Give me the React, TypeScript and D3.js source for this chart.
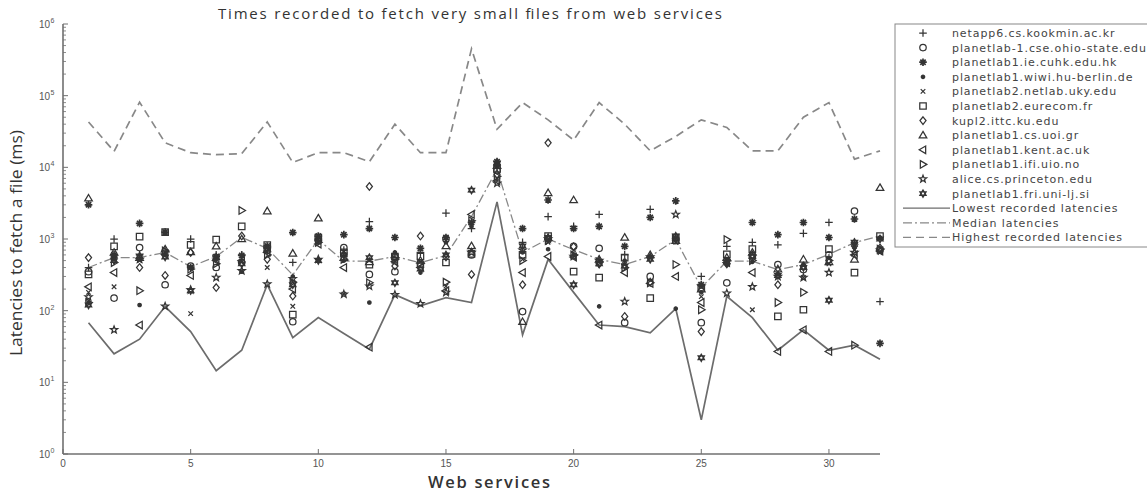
import React from "react";
import * as d3 from "d3";

// web service index on the x axis
const services = [1, 2, 3, 4, 5, 6, 7, 8, 9, 10, 11, 12, 13, 14, 15, 16, 17, 18, 19, 20, 21, 22, 23, 24, 25, 26, 27, 28, 29, 30, 31, 32];

const hosts = [
  "netapp6.cs.kookmin.ac.kr",
  "planetlab-1.cse.ohio-state.edu",
  "planetlab1.ie.cuhk.edu.hk",
  "planetlab1.wiwi.hu-berlin.de",
  "planetlab2.netlab.uky.edu",
  "planetlab2.eurecom.fr",
  "kupl2.ittc.ku.edu",
  "planetlab1.cs.uoi.gr",
  "planetlab1.kent.ac.uk",
  "planetlab1.ifi.uio.no",
  "alice.cs.princeton.edu",
  "planetlab1.fri.uni-lj.si",
];
const markerKinds = ["plus", "circle", "asterisk", "point", "x", "square", "diamond", "up", "left", "right", "pentagram", "hexagram"];

// latencies (ms) per host
const netapp6 = [400, 1000, 600, 700, 1000, 600, 600, 750, 470, 1000, 700, 1750, 600, 650, 2300, 1400, 11000, 900, 2050, 1500, 2200, 600, 2600, 1000, 300, 790, 900, 830, 1200, 1700, 900, 134];
const ohio = [350, 150, 760, 230, 420, 400, 470, 700, 70, 950, 760, 320, 350, 440, 1000, 600, 9000, 97, 1000, 790, 740, 68, 300, 950, 68, 245, 560, 440, 375, 600, 2450, 700];
const cuhk = [3000, 600, 1650, 1250, 400, 570, 590, 800, 1230, 1100, 1150, 1400, 1050, 740, 1050, 1700, 12000, 1400, 3500, 1400, 1500, 790, 2000, 3400, 230, 500, 1700, 1150, 1700, 1050, 1900, 35];
const wiwi = [130, 520, 120, 600, 400, 550, 350, 780, 300, 520, 500, 130, 650, 340, 900, 1500, 10000, 650, 720, 600, 115, 500, 570, 107, 180, 440, 480, 320, 440, 550, 800, 1050];
const uky = [180, 215, 500, 650, 91, 520, 480, 400, 115, 900, 170, 500, 500, 480, 220, 700, 7000, 520, 900, 700, 490, 440, 550, 900, 157, 520, 103, 350, 290, 450, 700, 650];
const eurecom = [320, 790, 1080, 1250, 830, 980, 1500, 820, 88, 1050, 650, 440, 570, 570, 470, 620, 9500, 600, 1100, 350, 290, 550, 150, 1050, 210, 610, 720, 83, 103, 720, 340, 1100];
const kupl2 = [550, 560, 400, 310, 650, 210, 1100, 520, 160, 950, 610, 5400, 420, 1100, 560, 320, 8000, 230, 22000, 780, 450, 83, 250, 1000, 51, 450, 600, 230, 420, 500, 800, 750];
const uoi = [3700, 650, 550, 720, 660, 790, 1000, 2450, 630, 1950, 550, 480, 600, 500, 800, 800, 10500, 70, 4400, 3500, 520, 1050, 600, 950, 200, 550, 650, 380, 520, 480, 520, 5200];
const kent = [215, 340, 63, 610, 310, 500, 500, 650, 200, 850, 400, 31, 480, 400, 190, 2200, 6500, 340, 570, 560, 63, 340, 240, 300, 130, 470, 340, 27, 54, 27, 600, 680];
const uio = [130, 470, 190, 680, 380, 450, 2500, 600, 250, 900, 520, 245, 520, 460, 250, 1800, 7500, 500, 950, 600, 480, 400, 245, 440, 103, 980, 500, 130, 180, 500, 33, 720];
const alice = [155, 54, 520, 115, 195, 290, 360, 235, 280, 520, 170, 220, 167, 125, 180, 650, 6000, 700, 1000, 570, 500, 134, 560, 2200, 220, 175, 215, 300, 290, 340, 650, 700];
const fri = [120, 500, 580, 560, 190, 550, 450, 720, 230, 500, 600, 550, 245, 380, 600, 4800, 11500, 800, 1050, 230, 450, 420, 520, 1100, 22, 480, 570, 310, 400, 140, 900, 1000];

const lowest = [68, 25, 40, 114, 51, 14.5, 28, 230, 42, 80, 48, 29, 167, 117, 152, 130, 3300, 46, 520, 180, 63, 60, 49, 107, 3, 158, 80, 28, 54, 28, 33, 21];
const median = [400, 550, 550, 650, 410, 570, 1050, 740, 315, 980, 490, 490, 570, 465, 590, 2060, 9400, 650, 1000, 710, 520, 440, 570, 980, 210, 490, 490, 375, 440, 610, 890, 1100];
const highest = [43000, 16700, 81000, 22000, 16000, 15000, 15500, 43000, 11700, 16000, 16000, 12000, 40000, 16000, 16000, 450000, 34000, 80000, 46000, 24000, 80000, 40000, 17000, 27000, 46000, 36000, 17000, 17000, 50000, 80000, 13000, 17000];

const hostSeries = [netapp6, ohio, cuhk, wiwi, uky, eurecom, kupl2, uoi, kent, uio, alice, fri];
const lineNames = ["Lowest recorded latencies", "Median latencies", "Highest recorded latencies"];
const lineSeries = [lowest, median, highest];
const lineDash = ["", "9,3,2,3", "8,5"];

const xTicks = [0, 5, 10, 15, 20, 25, 30];
const yExps = [0, 1, 2, 3, 4, 5, 6];

const W = 1147;
const H = 492;
const left = 63;
const right = 880;
const top = 24;
const bottom = 454;

const ink = "#343434";
const axisCol = "#707070";

function markerPath(kind: string, r: number): string {
  const p = d3.path();
  if (kind === "plus") {
    p.moveTo(-r, 0); p.lineTo(r, 0); p.moveTo(0, -r); p.lineTo(0, r);
  } else if (kind === "asterisk") {
    p.moveTo(-r, 0); p.lineTo(r, 0); p.moveTo(0, -r); p.lineTo(0, r);
    const k = r * 0.7;
    p.moveTo(-k, -k); p.lineTo(k, k); p.moveTo(-k, k); p.lineTo(k, -k);
  } else if (kind === "x") {
    const k = r * 0.6;
    p.moveTo(-k, -k); p.lineTo(k, k); p.moveTo(-k, k); p.lineTo(k, -k);
  } else if (kind === "square") {
    const k = r * 0.85;
    p.rect(-k, -k, 2 * k, 2 * k);
  } else if (kind === "diamond") {
    p.moveTo(0, -r); p.lineTo(r * 0.8, 0); p.lineTo(0, r); p.lineTo(-r * 0.8, 0); p.closePath();
  } else if (kind === "up") {
    p.moveTo(0, -r); p.lineTo(r, r * 0.7); p.lineTo(-r, r * 0.7); p.closePath();
  } else if (kind === "left") {
    p.moveTo(-r, 0); p.lineTo(r * 0.7, -r); p.lineTo(r * 0.7, r); p.closePath();
  } else if (kind === "right") {
    p.moveTo(r, 0); p.lineTo(-r * 0.7, -r); p.lineTo(-r * 0.7, r); p.closePath();
  } else if (kind === "pentagram" || kind === "hexagram") {
    const n = kind === "pentagram" ? 5 : 6;
    const inner = kind === "pentagram" ? 0.42 : 0.58;
    for (let i = 0; i < n * 2; i++) {
      const a = -Math.PI / 2 + (i * Math.PI) / n;
      const rr = i % 2 === 0 ? r : r * inner;
      if (i === 0) p.moveTo(rr * Math.cos(a), rr * Math.sin(a));
      else p.lineTo(rr * Math.cos(a), rr * Math.sin(a));
    }
    p.closePath();
  } else if (kind === "circle") {
    p.arc(0, 0, r * 0.85, 0, Math.PI * 2);
  } else if (kind === "point") {
    p.arc(0, 0, 1.7, 0, Math.PI * 2);
  }
  return p.toString();
}

function Marker({ kind, x, y }: { kind: string; x: number; y: number }) {
  const r = kind === "hexagram" ? 3.2 : 3.8;
  const filled = kind === "point";
  return (
    <path
      d={markerPath(kind, r)}
      transform={`translate(${x},${y})`}
      fill={filled ? ink : "none"}
      stroke={ink}
      strokeWidth={kind === "asterisk" || kind === "hexagram" ? 1.7 : 1.25}
    />
  );
}

export default function App() {
  const x = d3.scaleLinear().domain([0, 32]).range([left, right]);
  const y = d3.scaleLog().domain([1, 1e6]).range([bottom, top]);

  const line = d3
    .line<number>()
    .x((_, i) => x(services[i]))
    .y((d) => y(d));

  const minorTicks: number[] = [];
  for (let e = 0; e < 6; e++) {
    for (let m = 2; m <= 9; m++) minorTicks.push(m * Math.pow(10, e));
  }

  const legendTop = 33;
  const legendStep = 14.6;
  const legendFont = { fontFamily: "DejaVu Sans", fontSize: 11, fill: "#444", letterSpacing: 0.9 };

  return (
    <div style={{ position: "fixed", left: 0, top: 0, background: "#fff" }}>
      <svg width={W} height={H} style={{ display: "block" }}>
        <rect width={W} height={H} fill="#fff" />
        {/* title */}
        <text
          x={218}
          y={19}
          textLength={504}
          lengthAdjust="spacing"
          fontFamily="Open Sans"
          fontSize={15}
          fill="#333"
        >
          Times recorded to fetch very small files from web services
        </text>
        {/* lines */}
        {lineSeries.map((s, i) => (
          <path
            key={lineNames[i]}
            d={line(s) || ""}
            fill="none"
            stroke={i === 0 ? "#6c6c6c" : "#888"}
            strokeWidth={i === 1 ? 1.3 : 1.7}
            strokeDasharray={lineDash[i] || undefined}
          />
        ))}
        {/* markers */}
        {hostSeries.map((s, si) =>
          s.map((v, i) => <Marker key={`${si}-${i}`} kind={markerKinds[si]} x={x(services[i])} y={y(v)} />)
        )}
        {/* axes */}
        <line x1={left} x2={left} y1={top} y2={bottom} stroke={axisCol} strokeWidth={1.6} />
        <line x1={left} x2={right} y1={bottom} y2={bottom} stroke={axisCol} strokeWidth={1.6} />
        {yExps.map((e) => (
          <g key={e}>
            <line x1={left} x2={left + 5} y1={y(Math.pow(10, e))} y2={y(Math.pow(10, e))} stroke={axisCol} />
            <text x={50} y={y(Math.pow(10, e)) + 4} textAnchor="end" fontFamily="Liberation Sans" fontSize={10} fill="#555">
              10
            </text>
            <text x={50.5} y={y(Math.pow(10, e)) - 1} fontFamily="Liberation Sans" fontSize={7} fill="#555">
              {e}
            </text>
          </g>
        ))}
        {minorTicks.map((t) => (
          <line key={t} x1={left} x2={left + 3} y1={y(t)} y2={y(t)} stroke={axisCol} strokeWidth={0.8} />
        ))}
        {xTicks.map((t) => (
          <g key={t}>
            <line x1={x(t)} x2={x(t)} y1={bottom} y2={bottom - 5} stroke={axisCol} />
            <text x={x(t)} y={467} textAnchor="middle" fontFamily="Liberation Sans" fontSize={10} fill="#555">
              {t}
            </text>
          </g>
        ))}
        <text
          x={428}
          y={488}
          textLength={122}
          lengthAdjust="spacing"
          fontFamily="Open Sans"
          fontWeight={600}
          fontSize={16.5}
          fill="#333"
        >
          Web services
        </text>
        <text
          transform={`translate(22,356) rotate(-90)`}
          textLength={226}
          lengthAdjust="spacingAndGlyphs"
          fontFamily="Open Sans"
          fontSize={15.5}
          fill="#333"
        >
          Latencies to fetch a file (ms)
        </text>
        {/* legend */}
        <rect x={895} y={24} width={270} height={223} fill="#fff" stroke="#888" strokeWidth={1} />
        {hosts.map((h, i) => (
          <g key={h}>
            <Marker kind={markerKinds[i]} x={923} y={legendTop + i * legendStep} />
            <text x={952} y={legendTop + i * legendStep + 4} {...legendFont}>
              {h}
            </text>
          </g>
        ))}
        {lineNames.map((n, i) => {
          const ly = legendTop + (12 + i) * legendStep;
          return (
            <g key={n}>
              <line
                x1={903}
                x2={950}
                y1={ly}
                y2={ly}
                stroke={i === 0 ? "#6c6c6c" : "#888"}
                strokeWidth={1.3}
                strokeDasharray={lineDash[i] || undefined}
              />
              <text x={952} y={ly + 4} {...legendFont}>
                {n}
              </text>
            </g>
          );
        })}
      </svg>
    </div>
  );
}
